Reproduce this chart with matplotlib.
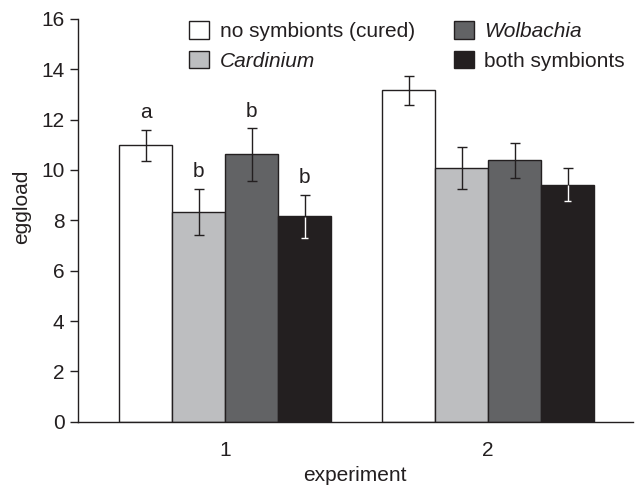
import matplotlib
matplotlib.use("Agg")
import matplotlib.pyplot as plt
import numpy as np

plt.rcParams['font.family'] = ['Liberation Sans', 'DejaVu Sans']

experiments = [1, 2]
groups = ["no symbionts (cured)", "Cardinium", "Wolbachia", "both symbionts"]
italic_groups = ["Cardinium", "Wolbachia"]
colors = ["#ffffff", "#bdbec0", "#626365", "#231f20"]

# mean eggload per experiment, one list per group
means = {
    "no symbionts (cured)": [10.98, 13.17],
    "Cardinium": [8.33, 10.08],
    "Wolbachia": [10.62, 10.38],
    "both symbionts": [8.16, 9.42],
}
errors = {
    "no symbionts (cured)": [0.62, 0.58],
    "Cardinium": [0.92, 0.82],
    "Wolbachia": [1.04, 0.69],
    "both symbionts": [0.86, 0.64],
}
# significance letters (experiment 1 only)
letters = {
    "no symbionts (cured)": ["a", ""],
    "Cardinium": ["b", ""],
    "Wolbachia": ["b", ""],
    "both symbionts": ["b", ""],
}

fs = 15
fig = plt.figure(figsize=(6.39, 4.86), dpi=100)
ax = fig.add_axes([0.1216, 0.1323, 0.8690, 0.8287])

x = np.array(experiments, dtype=float)
width = 0.2015
edge = "#231f20"
cap_half = 0.013

for i, g in enumerate(groups):
    xs = x + (i - 1.5) * width
    m = np.array(means[g])
    e = np.array(errors[g])
    ax.bar(xs, m, width, color=colors[i], edgecolor=edge, linewidth=1.0,
           label=g, zorder=2)
    ax.errorbar(xs, m, yerr=e, fmt="none", ecolor=edge, elinewidth=1.0,
                capsize=3.5, capthick=1.0, zorder=3)
    if colors[i] == "#231f20":
        # lower half of the error bar is drawn white on the black bar
        ax.vlines(xs, m - e, m - 0.03, color="white", linewidth=1.0, zorder=4)
        ax.hlines(m - e, xs - cap_half, xs + cap_half, color="white",
                  linewidth=1.0, zorder=4)
    for xi, mi, ei, lab in zip(xs, m, e, letters[g]):
        if lab:
            ax.text(xi, mi + ei + 0.3, lab, ha="center", va="bottom",
                    fontsize=fs, color="#231f20")

ax.set_xlim(0.44, 2.55)
ax.set_ylim(0, 16)
ax.set_yticks(np.arange(0, 17, 2))
ax.set_xticks(x)
ax.set_xticklabels([str(v) for v in experiments])
ax.tick_params(axis="x", length=0, pad=14, labelsize=fs, colors="#231f20")
ax.tick_params(axis="y", length=6, width=1.0, labelsize=fs, colors="#231f20")
for s in ["top", "right"]:
    ax.spines[s].set_visible(False)
for s in ["left", "bottom"]:
    ax.spines[s].set_linewidth(1.0)
    ax.spines[s].set_color("#231f20")

ax.set_ylabel("eggload", fontsize=fs, color="#231f20")
ax.yaxis.set_label_coords(-0.084, 0.533)
ax.set_xlabel("experiment", fontsize=fs, color="#231f20", labelpad=4)

leg = ax.legend(ncol=2, loc="upper left", bbox_to_anchor=(189 / 639, 1 - 21 / 486),
                bbox_transform=fig.transFigure, frameon=False, fontsize=fs,
                handlelength=0.98, handleheight=0.95, handletextpad=0.5,
                columnspacing=1.85, labelspacing=0.45, borderpad=0,
                borderaxespad=0)
for t in leg.get_texts():
    t.set_color("#231f20")
    if t.get_text() in italic_groups:
        t.set_fontstyle("italic")

fig.savefig("out.png", dpi=100)
